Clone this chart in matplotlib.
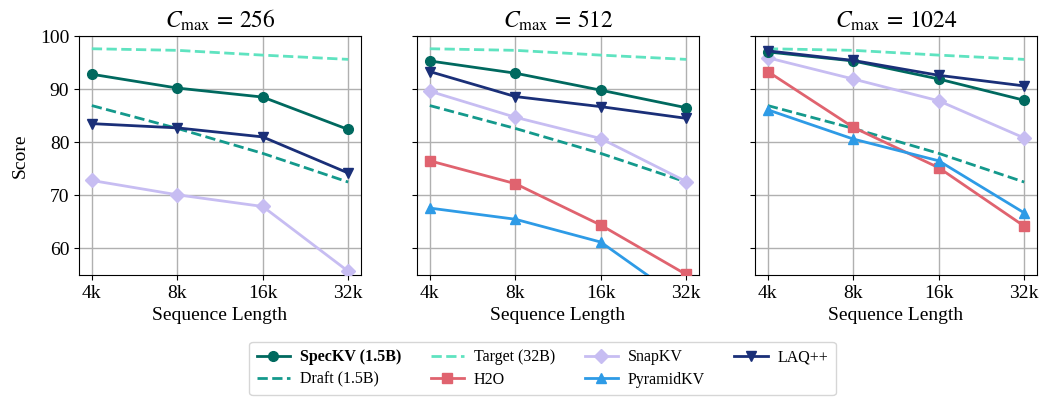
import matplotlib
matplotlib.use("Agg")
import matplotlib.pyplot as plt

plt.rcParams["font.family"] = ["Liberation Serif", "DejaVu Serif"]
plt.rcParams["mathtext.fontset"] = "stix"

seq_labels = ["4k", "8k", "16k", "32k"]
budgets = [256, 512, 1024]

# Reference lines, independent of the cache budget
target_32b = [97.6, 97.3, 96.4, 95.6]
draft_15b = [86.9, 82.6, 77.9, 72.5]

# Per-budget scores (None = method not shown for that budget)
speckv = {256: [92.8, 90.2, 88.5, 82.4],
          512: [95.3, 93.0, 89.8, 86.5],
          1024: [97.0, 95.3, 91.9, 87.9]}
snapkv = {256: [72.8, 70.1, 67.9, 55.7],
          512: [89.6, 84.7, 80.7, 72.6],
          1024: [95.9, 91.9, 87.8, 80.8]}
h2o = {256: None,
       512: [76.5, 72.2, 64.4, 55.1],
       1024: [93.3, 82.8, 75.2, 64.2]}
pyramidkv = {256: None,
             512: [67.6, 65.5, 61.2, 49.8],
             1024: [86.1, 80.6, 76.5, 66.7]}
laqpp = {256: [83.5, 82.7, 81.0, 74.2],
         512: [93.3, 88.6, 86.7, 84.5],
         1024: [97.2, 95.4, 92.6, 90.6]}

c_spec = "#00695f"
c_target = "#5fe3c0"
c_draft = "#14998c"
c_snap = "#c7bdf2"
c_h2o = "#e0636f"
c_pyr = "#2e9be6"
c_laq = "#1a2f78"

fig = plt.figure(figsize=(10.42, 3.98), dpi=100)
lefts = [79, 417, 755]
x = list(range(len(seq_labels)))
handles = {}
for i, (b, l) in enumerate(zip(budgets, lefts)):
    ax = fig.add_axes([l / 1042, 1 - 275 / 398, 282 / 1042, (275 - 36) / 398])
    h, = ax.plot(x, speckv[b], color=c_spec, marker="o", lw=2, ms=7, zorder=5)
    handles["spec"] = h
    h, = ax.plot(x, draft_15b, color=c_draft, ls="--", lw=2, zorder=3)
    handles["draft"] = h
    h, = ax.plot(x, target_32b, color=c_target, ls="--", lw=2, zorder=3)
    handles["target"] = h
    if h2o[b] is not None:
        h, = ax.plot(x, h2o[b], color=c_h2o, marker="s", lw=2, ms=7, zorder=4)
        handles["h2o"] = h
    h, = ax.plot(x, snapkv[b], color=c_snap, marker="D", lw=2, ms=7, zorder=4)
    handles["snap"] = h
    if pyramidkv[b] is not None:
        h, = ax.plot(x, pyramidkv[b], color=c_pyr, marker="^", lw=2, ms=7, zorder=4)
        handles["pyr"] = h
    h, = ax.plot(x, laqpp[b], color=c_laq, marker="v", lw=2, ms=7, zorder=5)
    handles["laq"] = h

    ax.set_xlim(-0.15, 3.15)
    ax.set_ylim(55, 100)
    ax.set_yticks([60, 70, 80, 90, 100])
    ax.set_xticks(x)
    ax.set_xticklabels(seq_labels, fontsize=14)
    ax.tick_params(axis="y", labelsize=14)
    ax.grid(True, color="#b0b0b0", lw=1)
    ax.set_axisbelow(True)
    ax.set_xlabel("Sequence Length", fontsize=14)
    ax.set_title(r"$C_{\max}\,=\,%d$" % b, fontsize=17)
    if i == 0:
        ax.set_ylabel("Score", fontsize=14, labelpad=8)
    else:
        ax.set_yticklabels([])

order = ["spec", "draft", "target", "h2o", "snap", "pyr", "laq"]
labels = ["SpecKV (1.5B)", "Draft (1.5B)", "Target (32B)", "H2O",
          "SnapKV", "PyramidKV", "LAQ++"]
leg = fig.legend([handles[k] for k in order], labels, loc="center",
                 bbox_to_anchor=(542.5 / 1042, 1 - 368.5 / 398), ncol=4,
                 fontsize=11.5, frameon=True, edgecolor="#cccccc",
                 fancybox=True, handlelength=2.1, columnspacing=1.85,
                 handletextpad=0.6, borderpad=0.45, labelspacing=0.4)
leg.get_texts()[0].set_fontweight("bold")

fig.savefig("out.png", dpi=100)
